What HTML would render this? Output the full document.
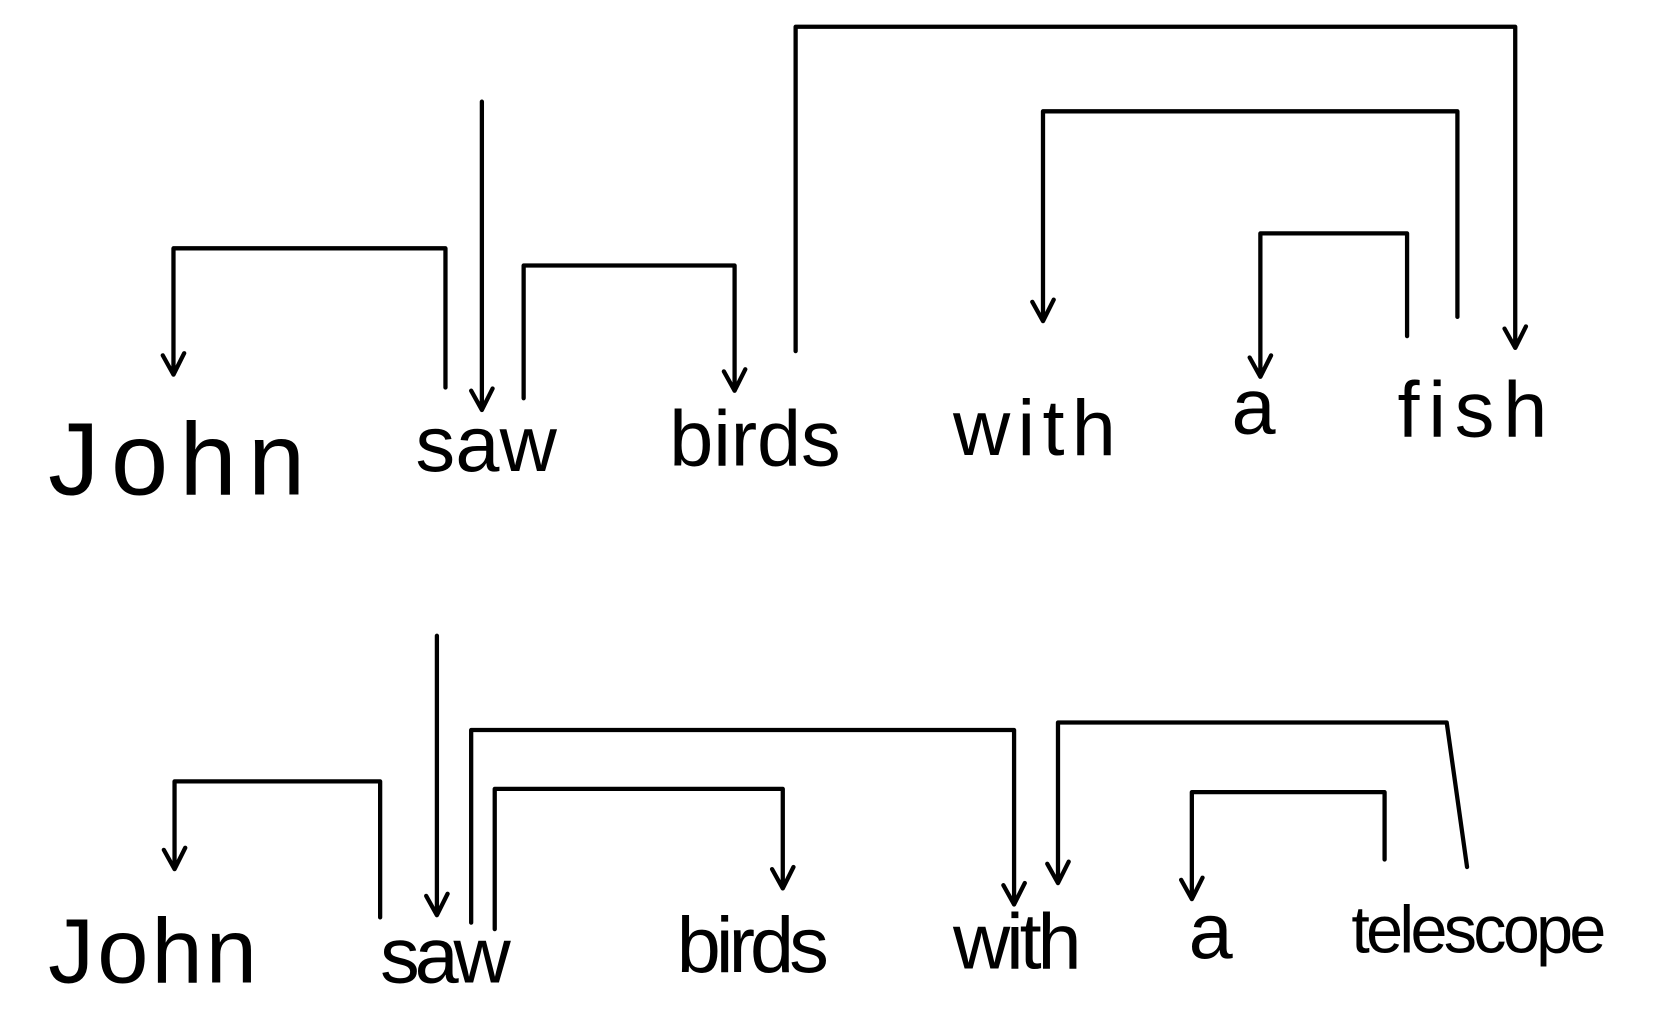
<!DOCTYPE html>
<html><head><meta charset="utf-8"><style>
html,body{margin:0;padding:0;background:#fff;}
svg{display:block;}
text{font-family:"Liberation Sans",sans-serif;fill:#000;}
</style></head><body>
<svg width="1678" height="1019" viewBox="0 0 1567 952" preserveAspectRatio="none">
<g id="g" fill="none" stroke="#000" stroke-width="4" stroke-linecap="round" stroke-linejoin="round"></g>
<g font-size="74">
<text x="45" y="462" textLength="240" font-size="96">John</text>
<text x="388" y="440" textLength="132">saw</text>
<text x="625" y="435" textLength="160">birds</text>
<text x="890" y="425" textLength="152">with</text>
<text x="1150" y="405" textLength="52">a</text>
<text x="1305" y="408" textLength="140">fish</text>
</g>
<g font-size="74">
<text x="45" y="918" textLength="195" font-size="86">John</text>
<text x="355" y="918" textLength="122">saw</text>
<text x="632" y="908" textLength="142">birds</text>
<text x="890" y="905" textLength="120">with</text>
<text x="1110" y="895" textLength="40">a</text>
<text x="1262" y="890" textLength="238" font-size="62">telescope</text>
</g>
</svg>
<script>
const arcs=[
 [[416,362],[416,232],[162,232],[162,350]],
 [[489,372],[489,248],[686,248],[686,365]],
 [[743,328],[743,25],[1415,25],[1415,325]],
 [[1361,296],[1361,104],[974,104],[974,300]],
 [[1314,314],[1314,218],[1177,218],[1177,352]],
 [[355,857],[355,730],[163,730],[163,812]],
 [[440,862],[440,682],[947,682],[947,845]],
 [[462,868],[462,737],[731,737],[731,830]],
 [[1370,810],[1351,675],[988,675],[988,825]],
 [[1293,803],[1293,740],[1113,740],[1113,840]]
];
const roots=[[450,95,383],[408,594,855]];
const g=document.getElementById('g');
function path(d,name){const p=document.createElementNS('http://www.w3.org/2000/svg','path');p.setAttribute('d',d);


g.appendChild(p);}
function head(x,y){return ` M${x-10},${y-18} L${x},${y} L${x+10},${y-20}`;}
arcs.forEach(a=>{
 const [p0,p1,p2,p3]=a;
 path(`M${p0[0]},${p0[1]} L${p1[0]},${p1[1]} L${p2[0]},${p2[1]} L${p3[0]},${p3[1]}`+head(p3[0],p3[1]),'dependency-arc');
});
roots.forEach(r=>path(`M${r[0]},${r[1]} L${r[0]},${r[2]}`+head(r[0],r[2]),'root-arrow'));
</script>
</body></html>
